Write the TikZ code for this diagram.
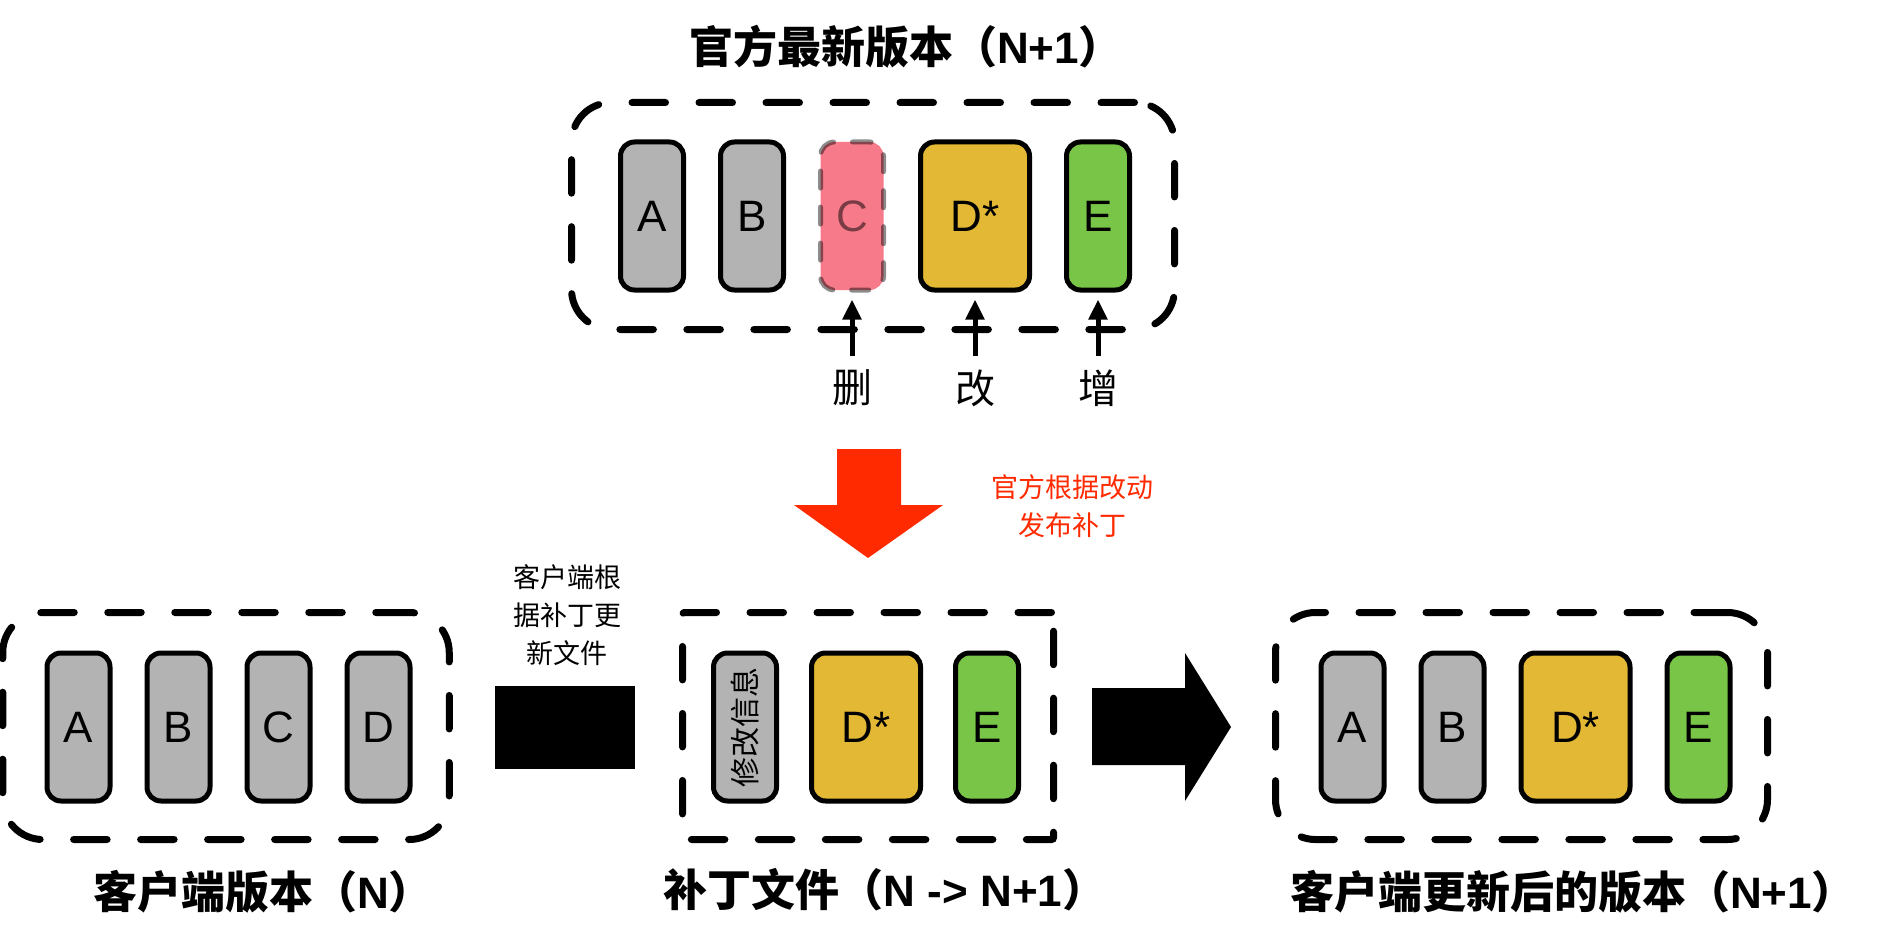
\documentclass[tikz,border=0pt]{standalone}
\usepackage{fontspec}
\setmainfont{Liberation Sans}
\newfontfamily\cjk{Noto Sans CJK SC}
\usetikzlibrary{positioning, arrows.meta}

\definecolor{filegray}{HTML}{B3B3B3}
\definecolor{delpink}{HTML}{F67A8A}
\definecolor{modyellow}{HTML}{E3B834}
\definecolor{addgreen}{HTML}{78C547}
\definecolor{patchred}{HTML}{FF2A00}

\tikzstyle{versionframe} = [rectangle, 
rounded corners=40pt, 
draw=black, 
line width=7pt, 
line cap=round, 
dash pattern=on 33.5pt off 33.5pt, 
minimum height=227pt]
\tikzstyle{filebox} = [rectangle, 
rounded corners=14pt, 
minimum width=63pt, 
minimum height=148pt, 
inner sep=0pt, 
draw=black, 
line width=5pt, 
fill=filegray, 
font=\fontsize{44}{48}\selectfont]
\tikzstyle{widefile} = [filebox, minimum width=109pt]
\tikzstyle{heading} = [font=\fontsize{44}{50}\selectfont\bfseries]
\tikzstyle{oplabel} = [inner sep=0pt, font=\cjk\fontsize{40}{44}\selectfont]
\tikzstyle{note} = [align=center, font=\cjk\fontsize{27}{38}\selectfont]
\tikzstyle{uparrow} = [line width=5pt, -{Triangle[length=20pt,width=18pt]}, shorten >=7pt]

\begin{document}
\begin{tikzpicture}[x=1pt, y=-1pt, node distance=32pt]

\useasboundingbox (0,0) rectangle (1886,936);

% official release N+1
\node (topTitle) [heading] at (906,47) {{\cjk 官方最新版本（}N+1{\cjk ）}};
\node (topFrame) [versionframe, minimum width=603pt] at (873,216) {};
\node (topA) [filebox] at (652,216) {A};
\node (topB) [filebox, right=of topA] {B};
\node (topC) [filebox, right=of topB, fill=delpink, draw opacity=0.45, text opacity=0.5, line cap=round, dash pattern=on 17pt off 19pt] {C};
\node (topD) [widefile, right=of topC, fill=modyellow] {D*};
\node (topE) [filebox, right=of topD, fill=addgreen] {E};

\node (del) [oplabel] at (topC |- 0,388) {删};
\node (mod) [oplabel] at (topD |- 0,388) {改};
\node (add) [oplabel] at (topE |- 0,388) {增};
\draw [uparrow] ([yshift=32pt]del.center) -- (topC.south);
\draw [uparrow] ([yshift=32pt]mod.center) -- (topD.south);
\draw [uparrow] ([yshift=32pt]add.center) -- (topE.south);

\fill [patchred] (837,449) -- (901,449) -- (901,505) -- (943,505) -- (868,558) -- (794,505) -- (837,505) -- cycle;
\node (releaseNote) [note, text=patchred] at (1072,506) {官方根据改动\\发布补丁};

% client version N
\node (oldFrame) [versionframe, minimum width=446.5pt] at (226,726) {};
\node (oldA) [filebox] at (78.5,727) {A};
\node (oldB) [filebox, right=of oldA] {B};
\node (oldC) [filebox, right=of oldB] {C};
\node (oldD) [filebox, right=of oldC] {D};
\node (oldTitle) [heading] at (263,892) {{\cjk 客户端版本（}N{\cjk ）}};

\node (applyNote) [note] at (567,615) {客户端根\\据补丁更\\新文件};
\fill (495,686) rectangle (635,769);

% patch N -> N+1
\node (patchFrame) [versionframe, rounded corners=2pt, minimum width=371pt] at (868,726) {};
\node (patchD) [widefile, fill=modyellow] at (866,727) {D*};
\node (patchInfo) [filebox, left=30pt of patchD] {};
\node [rotate=90, font=\cjk\fontsize{30}{34}\selectfont] at (patchInfo) {修改信息};
\node (patchE) [filebox, right=30pt of patchD, fill=addgreen] {E};
\node (patchTitle) [heading] at (885,890) {{\cjk 补丁文件（}N -> N+1{\cjk ）}};

\fill (1092,688) -- (1185,688) -- (1185,653) -- (1231,727) -- (1185,801) -- (1185,765) -- (1092,765) -- cycle;

% client after update
\node (newFrame) [versionframe, minimum width=492pt] at (1521.5,726) {};
\node (newA) [filebox] at (1352.5,727) {A};
\node (newB) [filebox, right=of newA] {B};
\node (newD) [widefile, right=of newB, fill=modyellow] {D*};
\node (newE) [filebox, right=of newD, fill=addgreen] {E};
\node (newTitle) [heading] at (1573,892) {{\cjk 客户端更新后的版本（}N+1{\cjk ）}};

\end{tikzpicture}
\end{document}
